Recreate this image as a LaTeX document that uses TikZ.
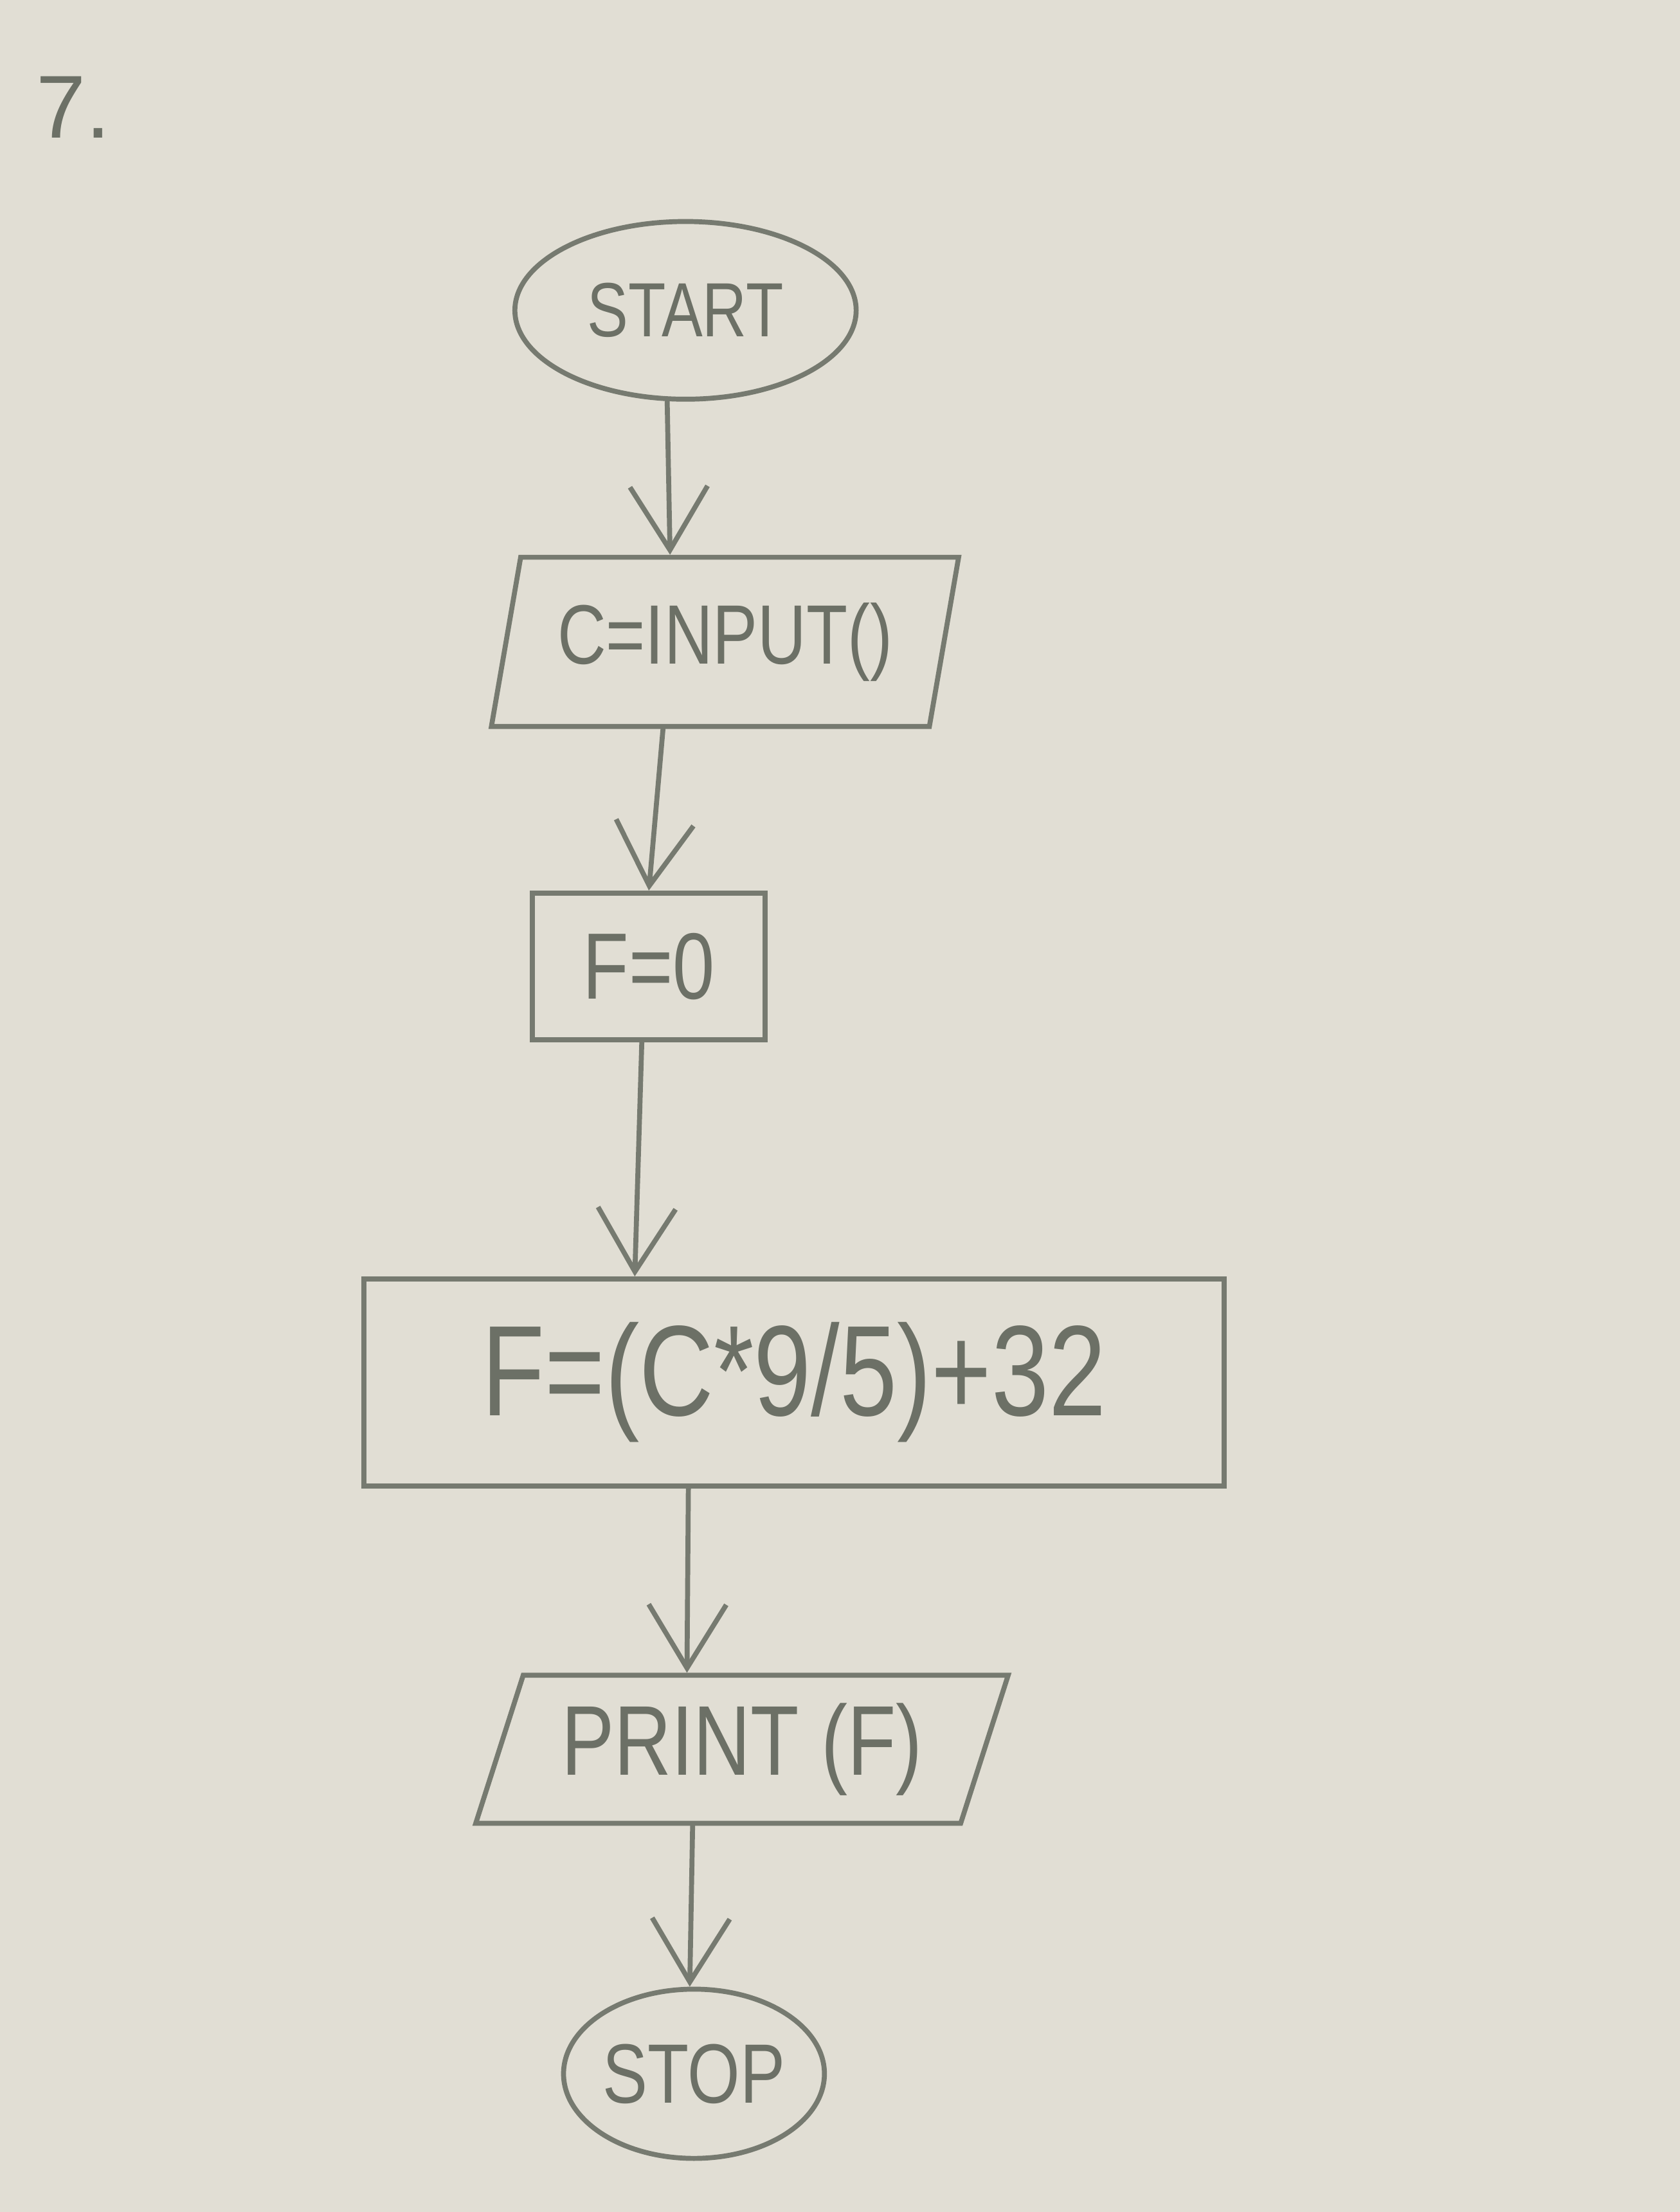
\documentclass[tikz,border=0pt]{standalone}
\usepackage{fontspec}
\setmainfont{Liberation Sans}
\newfontfamily\handfont[FakeStretch=0.8]{Liberation Sans}
\usetikzlibrary{shapes.geometric,arrows.meta}
\definecolor{paper}{RGB}{225,222,212}
\definecolor{ink}{RGB}{118,122,112}
\definecolor{pencil}{RGB}{108,112,102}
\begin{document}
\begin{tikzpicture}[x=0.02cm,y=-0.02cm,
  shapebox/.style={draw=ink, line width=2pt, inner sep=0pt, text=pencil},
  term/.style={shapebox, ellipse},
  io/.style={shapebox, trapezium, trapezium stretches=true},
  proc/.style={shapebox, rectangle},
  arr/.style={draw=ink, line width=2pt, line cap=round,
    -{Straight Barb[length=0.9cm,width=1.1cm,line width=2pt]}}
]
\fill[paper] (0,0) rectangle (1191,1568);
\useasboundingbox (0,0) rectangle (1191,1568);

\node[text=pencil, font=\fontsize{36}{40}\selectfont] (seven) at (52,76) {7.};

\node[term, minimum width=4.84cm, minimum height=2.52cm,
  font=\handfont\fontsize{31}{36}\selectfont] (start) at (486,220) {START};

\node[io, trapezium left angle=73, trapezium right angle=107,
  minimum width=6.64cm, minimum height=2.4cm,
  font=\handfont\fontsize{34}{40}\selectfont] (input) at (514,455) {C=INPUT()};

\node[proc, minimum width=3.3cm, minimum height=2.08cm,
  font=\handfont\fontsize{38}{44}\selectfont] (f0) at (460,685) {F=0};

\node[proc, minimum width=12.2cm, minimum height=2.94cm,
  font=\handfont\fontsize{52}{60}\selectfont] (calc) at (563,980) {F=(C*9/5)+32};

\node[io, trapezium left angle=67, trapezium right angle=113,
  minimum width=7.56cm, minimum height=2.1cm,
  font=\handfont\fontsize{40}{46}\selectfont] (print) at (526,1240) {PRINT (F)};

\node[term, minimum width=3.7cm, minimum height=2.4cm,
  font=\handfont\fontsize{34}{40}\selectfont] (stop) at (492,1470) {STOP};

\draw[arr] ([xshift=-0.26cm]start.south) -- ([xshift=-0.78cm]input.north);
\draw[arr] ([xshift=-0.88cm]input.south) -- (f0.north);
\draw[arr] ([xshift=-0.1cm]f0.south) -- ([xshift=-2.26cm]calc.north);
\draw[arr] ([xshift=-1.5cm]calc.south) -- ([xshift=-0.78cm]print.north);
\draw[arr] ([xshift=-0.7cm]print.south) -- ([xshift=-0.06cm]stop.north);
\end{tikzpicture}
\end{document}
